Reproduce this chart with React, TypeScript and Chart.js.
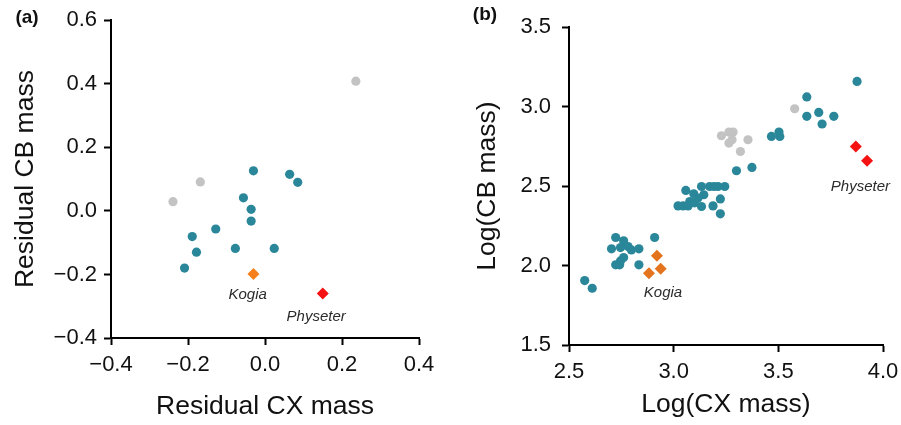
import React, { useEffect, useRef } from 'react';
import { Chart, registerables } from 'chart.js';

Chart.register(...registerables);

const FONT = "'Liberation Sans', Arial, Helvetica, sans-serif";

// ---------- Panel (a): residuals ----------
const aTeal = [
  { x: -0.03, y: 0.126 }, { x: 0.064, y: 0.115 }, { x: 0.085, y: 0.09 },
  { x: -0.056, y: 0.041 }, { x: -0.036, y: 0.005 }, { x: -0.036, y: -0.032 },
  { x: -0.128, y: -0.057 }, { x: -0.189, y: -0.081 }, { x: -0.178, y: -0.13 },
  { x: -0.077, y: -0.118 }, { x: 0.024, y: -0.118 }, { x: -0.209, y: -0.18 },
];
const aGrey = [
  { x: 0.236, y: 0.408 }, { x: -0.168, y: 0.091 }, { x: -0.239, y: 0.029 },
];
const aKogia = [{ x: -0.03, y: -0.199 }];
const aPhyseter = [{ x: 0.15, y: -0.26 }];
const aXTicks = [-0.4, -0.2, 0.0, 0.2, 0.4];
const aYTicks = [-0.4, -0.2, 0.0, 0.2, 0.4, 0.6];
const aLabels = [
  { text: 'Kogia', x: -0.045, y: -0.265 },
  { text: 'Physeter', x: 0.133, y: -0.334 },
];

// ---------- Panel (b): log masses ----------
const bTeal = [
  { x: 2.575, y: 1.905 }, { x: 2.611, y: 1.857 },
  { x: 2.723, y: 2.176 }, { x: 2.761, y: 2.155 }, { x: 2.703, y: 2.105 },
  { x: 2.746, y: 2.113 }, { x: 2.782, y: 2.119 }, { x: 2.798, y: 2.098 },
  { x: 2.834, y: 2.105 }, { x: 2.761, y: 2.05 }, { x: 2.746, y: 2.029 },
  { x: 2.723, y: 2.004 }, { x: 2.742, y: 2.004 }, { x: 2.834, y: 2.004 },
  { x: 2.909, y: 2.176 },
  { x: 3.058, y: 2.472 }, { x: 3.133, y: 2.497 }, { x: 3.172, y: 2.497 },
  { x: 3.193, y: 2.497 }, { x: 3.212, y: 2.497 }, { x: 3.244, y: 2.497 },
  { x: 3.096, y: 2.451 }, { x: 3.144, y: 2.445 }, { x: 3.116, y: 2.424 },
  { x: 3.223, y: 2.419 }, { x: 3.077, y: 2.402 }, { x: 3.021, y: 2.375 },
  { x: 3.045, y: 2.375 }, { x: 3.069, y: 2.375 }, { x: 3.133, y: 2.371 },
  { x: 3.188, y: 2.375 }, { x: 3.223, y: 2.325 }, { x: 3.1, y: 2.394 },
  { x: 3.3, y: 2.596 }, { x: 3.374, y: 2.617 },
  { x: 3.467, y: 2.812 }, { x: 3.503, y: 2.839 }, { x: 3.507, y: 2.812 },
  { x: 3.636, y: 3.06 }, { x: 3.636, y: 2.938 }, { x: 3.693, y: 2.963 },
  { x: 3.709, y: 2.89 }, { x: 3.765, y: 2.938 }, { x: 3.876, y: 3.158 },
];
const bGrey = [
  { x: 3.228, y: 2.816 }, { x: 3.264, y: 2.839 }, { x: 3.284, y: 2.839 },
  { x: 3.279, y: 2.791 }, { x: 3.264, y: 2.77 }, { x: 3.355, y: 2.791 },
  { x: 3.319, y: 2.717 }, { x: 3.578, y: 2.986 },
];
const bKogia = [{ x: 2.92, y: 2.062 }, { x: 2.882, y: 1.951 }, { x: 2.938, y: 1.979 }];
const bPhyseter = [{ x: 3.87, y: 2.749 }, { x: 3.924, y: 2.659 }];
const bXTicks = [2.5, 3.0, 3.5, 4.0];
const bYTicks = [1.5, 2.0, 2.5, 3.0, 3.5];
const bLabels = [
  { text: 'Kogia', x: 2.949, y: 1.826 },
  { text: 'Physeter', x: 3.892, y: 2.493 },
];

const TEAL = '#2a879a';
const GREY = '#c3c3c3';
const RED = '#f41212';

function fmt(v: number): string {
  const s = Math.abs(v).toFixed(1);
  return v < -1e-9 ? '\u2212' + s : s;
}

const annotPlugin = {
  id: 'annot',
  afterDraw(chart: any, _args: any, opts: any) {
    const { ctx } = chart;
    const xs = chart.scales.x;
    const ys = chart.scales.y;
    ctx.save();
    ctx.textAlign = 'center';
    ctx.textBaseline = 'middle';
    ctx.font = `italic 15px ${FONT}`;
    ctx.fillStyle = '#2b2b2b';
    (opts.labels || []).forEach((l: any) => {
      ctx.fillText(l.text, xs.getPixelForValue(l.x), ys.getPixelForValue(l.y));
    });
    ctx.font = `bold 19px ${FONT}`;
    ctx.fillStyle = '#111';
    ctx.fillText(opts.tag, opts.tagX, opts.tagY);
    ctx.restore();
  },
};

type PanelCfg = {
  left: number;
  width: number;
  teal: any[];
  grey: any[];
  kogia: any[];
  physeter: any[];
  orange: string;
  xTicks: number[];
  yTicks: number[];
  xMin: number; xMax: number; yMin: number; yMax: number;
  xTitle: string; yTitle: string;
  labels: any[];
  tag: string; tagX: number; tagY: number;
  padTop: number; padRight: number;
  yWidth: number; xHeight: number;
  yTickPad: number; yTitlePad: number; xTitlePad: number;
  diamond: number;
};

function Panel({ cfg }: { cfg: PanelCfg }) {
  const ref = useRef<HTMLCanvasElement>(null);
  useEffect(() => {
    if (!ref.current) return;
    const tickFont = { family: FONT, size: 22 };
    const titleFont = { family: FONT, size: 26.5 };
    const chart = new Chart(ref.current, {
      type: 'scatter',
      data: {
        datasets: [
          { data: cfg.grey, backgroundColor: GREY, pointRadius: 4.6, borderWidth: 0, pointStyle: 'circle' },
          { data: cfg.teal, backgroundColor: TEAL, pointRadius: 4.6, borderWidth: 0, pointStyle: 'circle' },
          { data: cfg.kogia, backgroundColor: cfg.orange, pointRadius: cfg.diamond, borderWidth: 0, pointStyle: 'rectRot' },
          { data: cfg.physeter, backgroundColor: RED, pointRadius: cfg.diamond, borderWidth: 0, pointStyle: 'rectRot' },
        ],
      } as any,
      options: {
        animation: false,
        responsive: false,
        events: [],
        layout: { padding: { top: cfg.padTop, right: cfg.padRight, left: 0, bottom: 0 } },
        plugins: {
          legend: { display: false },
          tooltip: { enabled: false },
          annot: { labels: cfg.labels, tag: cfg.tag, tagX: cfg.tagX, tagY: cfg.tagY },
        } as any,
        scales: {
          x: {
            type: 'linear',
            min: cfg.xMin,
            max: cfg.xMax,
            afterBuildTicks: (s: any) => { s.ticks = cfg.xTicks.map((v) => ({ value: v })); },
            afterFit: (s: any) => { s.height = cfg.xHeight; },
            grid: { display: true, drawOnChartArea: false, drawTicks: true, tickLength: 7, tickWidth: 2, tickColor: '#000' },
            border: { display: true, color: '#000', width: 2 },
            ticks: { color: '#111', font: tickFont, padding: 7, autoSkip: false, maxRotation: 0, callback: (v: any) => fmt(Number(v)) },
            title: { display: true, text: cfg.xTitle, color: '#111', font: titleFont, padding: { top: 0, bottom: cfg.xTitlePad } },
          },
          y: {
            type: 'linear',
            min: cfg.yMin,
            max: cfg.yMax,
            afterBuildTicks: (s: any) => { s.ticks = cfg.yTicks.map((v) => ({ value: v })); },
            afterFit: (s: any) => { s.width = cfg.yWidth; },
            grid: { display: true, drawOnChartArea: false, drawTicks: true, tickLength: 7, tickWidth: 2, tickColor: '#000' },
            border: { display: true, color: '#000', width: 2 },
            ticks: { color: '#111', font: tickFont, padding: cfg.yTickPad, autoSkip: false, callback: (v: any) => fmt(Number(v)) },
            title: { display: true, text: cfg.yTitle, color: '#111', font: titleFont, padding: { top: cfg.yTitlePad, bottom: 0 } },
          },
        },
      } as any,
      plugins: [annotPlugin as any],
    });
    return () => chart.destroy();
  }, []);
  return (
    <canvas
      ref={ref}
      width={cfg.width}
      height={425}
      style={{ position: 'absolute', left: cfg.left, top: 0, width: cfg.width, height: 425 }}
    />
  );
}

const panelA: PanelCfg = {
  left: 0, width: 450,
  teal: aTeal, grey: aGrey, kogia: aKogia, physeter: aPhyseter, orange: '#f7801c',
  xTicks: aXTicks, yTicks: aYTicks,
  xMin: -0.4, xMax: 0.4, yMin: -0.4, yMax: 0.6,
  xTitle: 'Residual CX mass', yTitle: 'Residual CB mass',
  labels: aLabels, tag: '(a)', tagX: 27, tagY: 18,
  padTop: 20, padRight: 31, yWidth: 111, xHeight: 87,
  yTickPad: 7, yTitlePad: 10, xTitlePad: 2, diamond: 6,
};

const panelB: PanelCfg = {
  left: 450, width: 460,
  teal: bTeal, grey: bGrey, kogia: bKogia, physeter: bPhyseter, orange: '#e3731d',
  xTicks: bXTicks, yTicks: bYTicks,
  xMin: 2.5, xMax: 4.0, yMin: 1.5, yMax: 3.5,
  xTitle: 'Log(CX mass)', yTitle: 'Log(CB mass)',
  labels: bLabels, tag: '(b)', tagX: 35, tagY: 15,
  padTop: 27, padRight: 27, yWidth: 119, xHeight: 80,
  yTickPad: 11, yTitlePad: 22, xTitlePad: 4, diamond: 6,
};

export default function App() {
  return (
    <div style={{ position: 'fixed', left: 0, top: 0, width: 901, height: 425, background: '#fff', overflow: 'hidden' }}>
      <Panel cfg={panelA} />
      <Panel cfg={panelB} />
    </div>
  );
}
